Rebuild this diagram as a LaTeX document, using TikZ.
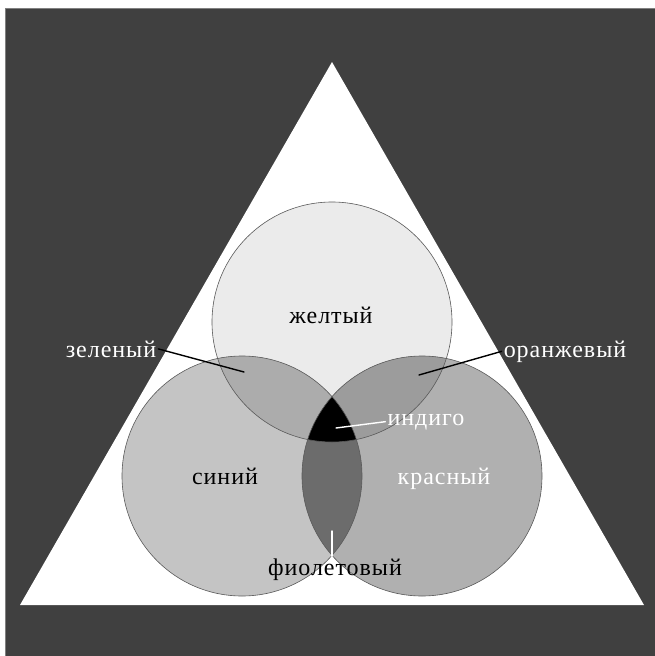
\documentclass[tikz,border=0pt]{standalone}
\usepackage{fontspec}
\setmainfont[LetterSpace=4]{Liberation Serif}
\usetikzlibrary{positioning}
\definecolor{darkbg}{HTML}{404040}
\definecolor{yelfill}{HTML}{EBEBEB}
\definecolor{blufill}{HTML}{C4C4C4}
\definecolor{redfill}{HTML}{B0B0B0}
\definecolor{grnfill}{HTML}{ACACAC}
\definecolor{orgfill}{HTML}{9C9C9C}
\definecolor{viofill}{HTML}{6C6C6C}
\definecolor{ringgray}{HTML}{5A5A5A}
\tikzset{
    every picture/.style={line join=round,line cap=round},
}

\begin{document}
\begin{tikzpicture}[x=1pt,y=-1pt,
  lbl/.style={font=\fontsize{24}{28}\selectfont,inner sep=2pt,anchor=base},
  wlbl/.style={lbl,text=white},
  ring/.style={draw=ringgray,line width=0.6pt},
  pointer/.style={line width=1.4pt}]
\useasboundingbox (0,0) rectangle (654,656);
\fill[white] (0,0) rectangle (654,656);
\filldraw[fill=darkbg,draw=gray] (5,8) rectangle (660,662);
% triangle
\fill[white] (20,605) -- (644,605) -- (332,62) -- cycle;
% circle centres
\def\rad{120}
\coordinate (cy) at (332,322);
\coordinate (cb) at (242,476);
\coordinate (cr) at (422,476);
\fill[yelfill] (cy) circle (\rad);
\fill[blufill] (cb) circle (\rad);
\fill[redfill] (cr) circle (\rad);
\begin{scope}
\clip (cy) circle (\rad);
\fill[grnfill] (cb) circle (\rad);
\fill[orgfill] (cr) circle (\rad);
\end{scope}
\begin{scope}
\clip (cb) circle (\rad);
\fill[viofill] (cr) circle (\rad);
\clip (cr) circle (\rad);
\fill[black] (cy) circle (\rad);
\end{scope}
\draw[ring] (cy) circle (\rad) (cb) circle (\rad) (cr) circle (\rad);
% labels
\node[lbl] (yel) at (331,323) {желтый};
\node[lbl] (blu) at (225,484) {синий};
\node[wlbl] (red) at (444,484) {красный};
\node[wlbl] (grn) at (111,357) {зеленый};
\node[wlbl] (org) at (565,357) {оранжевый};
\node[wlbl] (ind) at (426,425) {индиго};
\node[lbl] (vio) at (335,575) {фиолетовый};
\coordinate (grnpt) at (244,372);
\coordinate (orgpt) at (419,375);
\coordinate (indpt) at (336,428);
\coordinate (viopt) at (332,531);
\path (grn.east) edge[pointer,black] (grnpt)
(org.west) edge[pointer,black] (orgpt)
(ind.west) edge[pointer,white] (indpt)
(vio.north -| viopt) edge[pointer,white] (viopt)
;
\end{tikzpicture}
\end{document}
